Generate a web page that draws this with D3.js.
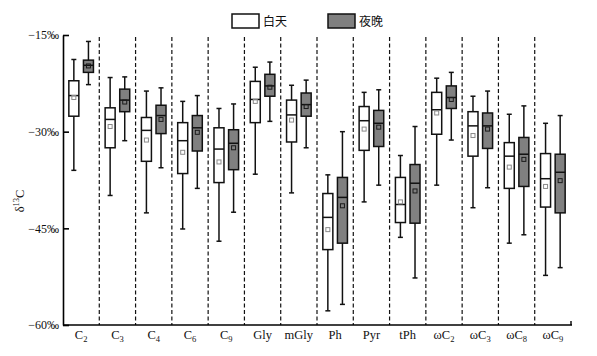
<!DOCTYPE html>
<html>
<head>
<meta charset="utf-8">
<script src="https://cdn.jsdelivr.net/npm/d3@7"></script>
<style>
  body { margin: 0; background: #fff; }
  text { font-family: "Liberation Serif", "Noto Sans CJK SC", serif; }
</style>
</head>
<body>
<script>
// categories (trailing digits are drawn as subscripts)
var categories = ["C2", "C3", "C4", "C6", "C9", "Gly", "mGly", "Ph", "Pyr", "tPh", "ωC2", "ωC3", "ωC8", "ωC9"];
var seriesNames = ["白天", "夜晚"];
var yTicks = [-15, -30, -45, -60];

// 白天 (day)
var dayMin  = [-36.0, -39.9, -42.6, -45.1, -47.0, -36.6, -39.5, -57.8, -40.9, -46.4, -38.3, -41.8, -47.3, -52.3];
var dayQ1   = [-27.6, -32.5, -34.6, -36.5, -37.9, -28.6, -31.6, -48.3, -32.9, -44.1, -30.4, -33.8, -38.8, -41.7];
var dayMed  = [-24.4, -28.1, -29.8, -31.4, -32.7, -25.0, -27.4, -43.3, -28.3, -41.3, -26.6, -29.1, -33.8, -37.3];
var dayQ3   = [-22.1, -26.3, -27.8, -28.6, -29.4, -22.2, -25.1, -39.6, -26.1, -37.1, -23.9, -26.9, -31.7, -33.4];
var dayMax  = [-18.8, -21.6, -23.7, -25.3, -26.4, -20.0, -22.8, -36.7, -23.9, -33.7, -21.7, -24.5, -27.3, -28.7];
var dayMean = [-24.7, -29.2, -31.3, -33.2, -34.7, -25.3, -28.2, -45.2, -29.6, -40.9, -27.1, -30.6, -35.5, -38.5];

// 夜晚 (night)
var nightMin  = [-22.7, -31.4, -35.6, -38.8, -42.5, -28.4, -32.5, -56.8, -38.3, -52.7, -31.3, -38.7, -46.0, -51.1];
var nightQ1   = [-20.8, -26.9, -30.3, -33.0, -35.9, -24.5, -27.6, -47.3, -32.3, -44.2, -26.4, -32.6, -38.5, -42.6];
var nightMed  = [-19.7, -25.1, -27.5, -29.4, -31.8, -22.9, -25.8, -40.2, -28.7, -38.0, -24.7, -29.1, -33.5, -36.3];
var nightQ3   = [-18.9, -23.4, -25.9, -27.5, -29.7, -21.1, -24.0, -37.1, -26.7, -35.1, -22.9, -27.1, -30.9, -33.5];
var nightMax  = [-16.0, -21.5, -23.2, -24.4, -25.7, -19.2, -22.0, -30.0, -23.5, -29.2, -20.8, -23.7, -26.0, -27.5];
var nightMean = [-19.8, -25.4, -28.1, -30.1, -32.5, -23.1, -26.1, -41.5, -29.3, -39.2, -25.0, -29.6, -34.3, -37.6];

var fills = ["#ffffff", "#808080"];
var meanStroke = ["#8a8a8a", "#1a1a1a"];

var W = 597, H = 356;
var margin = {left: 63, right: 571, top: 35, bottom: 325};

var svg = d3.select("body").append("svg")
  .attr("width", W)
  .attr("height", H);

var x = d3.scaleBand()
  .domain(categories)
  .range([margin.left, margin.right])
  .padding(0);

var xs = d3.scalePoint()
  .domain(seriesNames)
  .range([0, x.bandwidth()])
  .padding(0.743);

var y = d3.scaleLinear()
  .domain([-60, -15])
  .range([margin.bottom, margin.top]);

// build rows for the boxes
var rows = [];
categories.forEach(function(c, i) {
  rows.push({cat: c, s: 0, min: dayMin[i], q1: dayQ1[i], med: dayMed[i], q3: dayQ3[i], max: dayMax[i], mean: dayMean[i]});
  rows.push({cat: c, s: 1, min: nightMin[i], q1: nightQ1[i], med: nightMed[i], q3: nightQ3[i], max: nightMax[i], mean: nightMean[i]});
});

// dashed separators
svg.append("g")
  .selectAll("line")
  .data(categories.slice(1))
  .enter()
  .append("line")
    .attr("x1", d => x(d))
    .attr("x2", d => x(d))
    .attr("y1", y(-15) + 2)
    .attr("y2", y(-60))
    .attr("stroke", "#111")
    .attr("stroke-width", 1.2)
    .attr("stroke-dasharray", "4,2.5");

// y axis
var yAxis = d3.axisLeft(y)
  .tickValues(yTicks)
  .tickSizeInner(-6)
  .tickSizeOuter(0)
  .tickPadding(4)
  .tickFormat(d => "\u2212" + Math.abs(d) + "\u2030");

var gy = svg.append("g")
  .attr("transform", `translate(${margin.left},0)`)
  .call(yAxis);
gy.select(".domain").attr("stroke", "#000").attr("stroke-width", 1.6);
gy.selectAll(".tick line").attr("stroke", "#000").attr("stroke-width", 1.6);
gy.selectAll(".tick text")
  .style("font-family", "Liberation Serif")
  .style("font-size", "12px")
  .attr("fill", "#111");

// x axis line with small tick at right end
svg.append("line")
  .attr("x1", margin.left).attr("x2", margin.right + 1)
  .attr("y1", margin.bottom).attr("y2", margin.bottom)
  .attr("stroke", "#000").attr("stroke-width", 1.6);

svg.append("line")
  .attr("x1", margin.right).attr("x2", margin.right)
  .attr("y1", margin.bottom).attr("y2", margin.bottom - 4)
  .attr("stroke", "#000").attr("stroke-width", 1.4);

// x labels with subscripts
var xl = svg.append("g")
  .selectAll("text")
  .data(categories)
  .enter()
  .append("text")
    .attr("x", d => x(d) + x.bandwidth() / 2)
    .attr("y", 339)
    .attr("text-anchor", "middle")
    .style("font-size", "12.5px")
    .attr("fill", "#111");

xl.each(function(d) {
  var m = d.match(/^(.*?)(\d*)$/);
  var t = d3.select(this);
  t.append("tspan").text(m[1]);
  if (m[2]) {
    t.append("tspan")
      .attr("dy", 3)
      .style("font-size", "8.5px")
      .text(m[2]);
  }
});

// boxes
var bw = 10, cap = 5;
var boxes = svg.append("g")
  .selectAll("g")
  .data(rows)
  .enter()
  .append("g")
    .attr("transform", d => `translate(${x(d.cat) + xs(seriesNames[d.s])},0)`);

boxes.append("line") // whisker
  .attr("x1", 0).attr("x2", 0)
  .attr("y1", d => y(d.max))
  .attr("y2", d => y(d.min))
  .attr("stroke", "#111").attr("stroke-width", 1.5);

boxes.append("line")
  .attr("x1", -cap / 2).attr("x2", cap / 2)
  .attr("y1", d => y(d.max)).attr("y2", d => y(d.max))
  .attr("stroke", "#111").attr("stroke-width", 1.5);

boxes.append("line")
  .attr("x1", -cap / 2).attr("x2", cap / 2)
  .attr("y1", d => y(d.min)).attr("y2", d => y(d.min))
  .attr("stroke", "#111").attr("stroke-width", 1.5);

boxes.append("rect")
  .attr("x", -bw / 2)
  .attr("width", bw)
  .attr("y", d => y(d.q3))
  .attr("height", d => y(d.q1) - y(d.q3))
  .attr("fill", d => fills[d.s])
  .attr("stroke", "#111")
  .attr("stroke-width", 1.5);

boxes.append("line") // median
  .attr("x1", -bw / 2).attr("x2", bw / 2)
  .attr("y1", d => y(d.med)).attr("y2", d => y(d.med))
  .attr("stroke", "#111").attr("stroke-width", 1.5);

boxes.append("rect") // mean
  .attr("x", -2)
  .attr("y", d => y(d.mean) - 2)
  .attr("width", 4)
  .attr("height", 4)
  .attr("fill", "none")
  .attr("stroke", d => meanStroke[d.s])
  .attr("stroke-width", 1);

// legend
var legend = svg.append("g");
var legX = [232, 328];
seriesNames.forEach(function(s, i) {
  legend.append("rect")
    .attr("x", legX[i]).attr("y", 14)
    .attr("width", 27).attr("height", 14)
    .attr("fill", fills[i])
    .attr("stroke", "#111")
    .attr("stroke-width", 1.5);
  legend.append("text")
    .attr("x", legX[i] + 31)
    .attr("y", 26)
    .style("font-family", "Noto Sans CJK SC")
    .style("font-size", "12px")
    .attr("fill", "#111")
    .text(s);
});

// y label
var yl = svg.append("text")
  .attr("transform", "translate(24,201)rotate(-90)")
  .attr("text-anchor", "middle")
  .style("font-size", "12.5px")
  .attr("fill", "#111");
yl.append("tspan").text("δ");
yl.append("tspan").attr("dy", -5).style("font-size", "8.5px").text("13");
yl.append("tspan").attr("dy", 5).text("C");
</script>
</body>
</html>
